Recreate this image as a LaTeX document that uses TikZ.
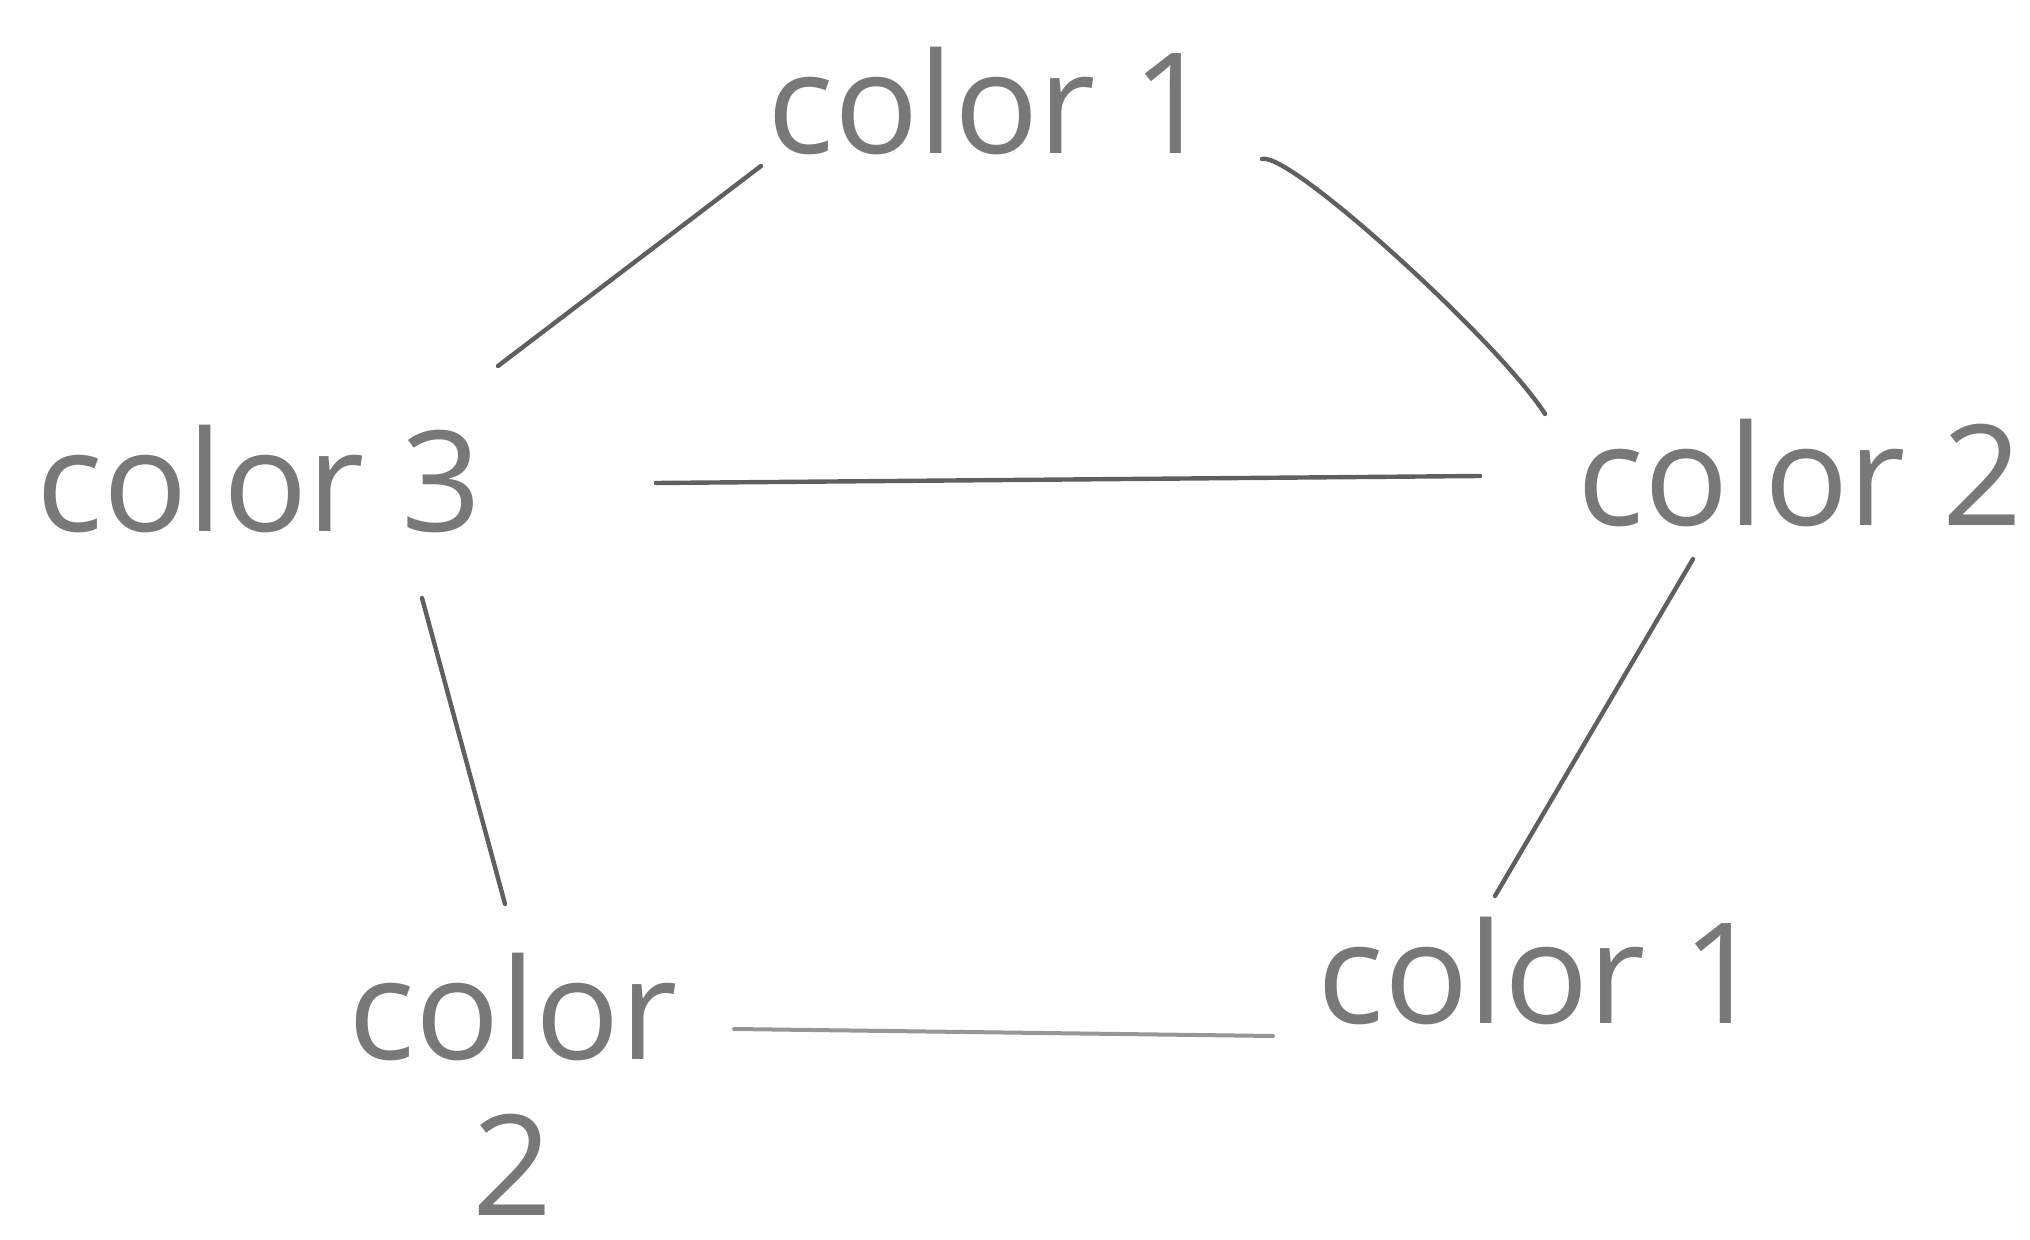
\documentclass[tikz,border=0pt]{standalone}
\usepackage{fontspec}
\setmainfont{Open Sans}
\usetikzlibrary{calc}
\definecolor{inkt}{RGB}{120,120,120}
\definecolor{inkl}{RGB}{95,95,95}
\definecolor{inkf}{RGB}{150,150,150}
\tikzset{
  lbl/.style={text=inkt, font=\fontsize{70}{78}\selectfont, inner sep=0pt, align=center},
  edge/.style={draw=inkl, line width=2.2pt, line cap=round},
  faint/.style={draw=inkf, line width=2pt, line cap=round}
}
\begin{document}
\begin{tikzpicture}[x=0.5pt,y=-0.5pt]
\useasboundingbox (0,0) rectangle (2030,1240);
\node[lbl] (c1) at (990,101) {color 1};
\node[lbl] (c3) at (259,479) {color 3};
\node[lbl] (c2) at (1800,473) {color 2};
\node[lbl] (b1) at (1540,971) {color 1};
\node[lbl] (b2) at (513,1084) {color\\2};
\draw[edge] ($(c1)+(-229,65)$) -- ($(c3)+(239,-113)$);
\draw[edge] ($(c1)+(272,58)$) .. controls ($(c1)+(300,50)$) and ($(c2)+(-300,-130)$) .. ($(c2)+(-255,-59)$);
\draw[edge] ($(c3)+(397,4)$) -- ($(c2)+(-320,3)$);
\draw[edge] ($(c3)+(163,119)$) -- ($(b2)+(-8,-180)$);
\draw[edge] ($(c2)+(-107,86)$) -- ($(b1)+(-45,-75)$);
\draw[faint] ($(b2)+(221,-55)$) -- ($(b1)+(-267,65)$);
\end{tikzpicture}
\end{document}
